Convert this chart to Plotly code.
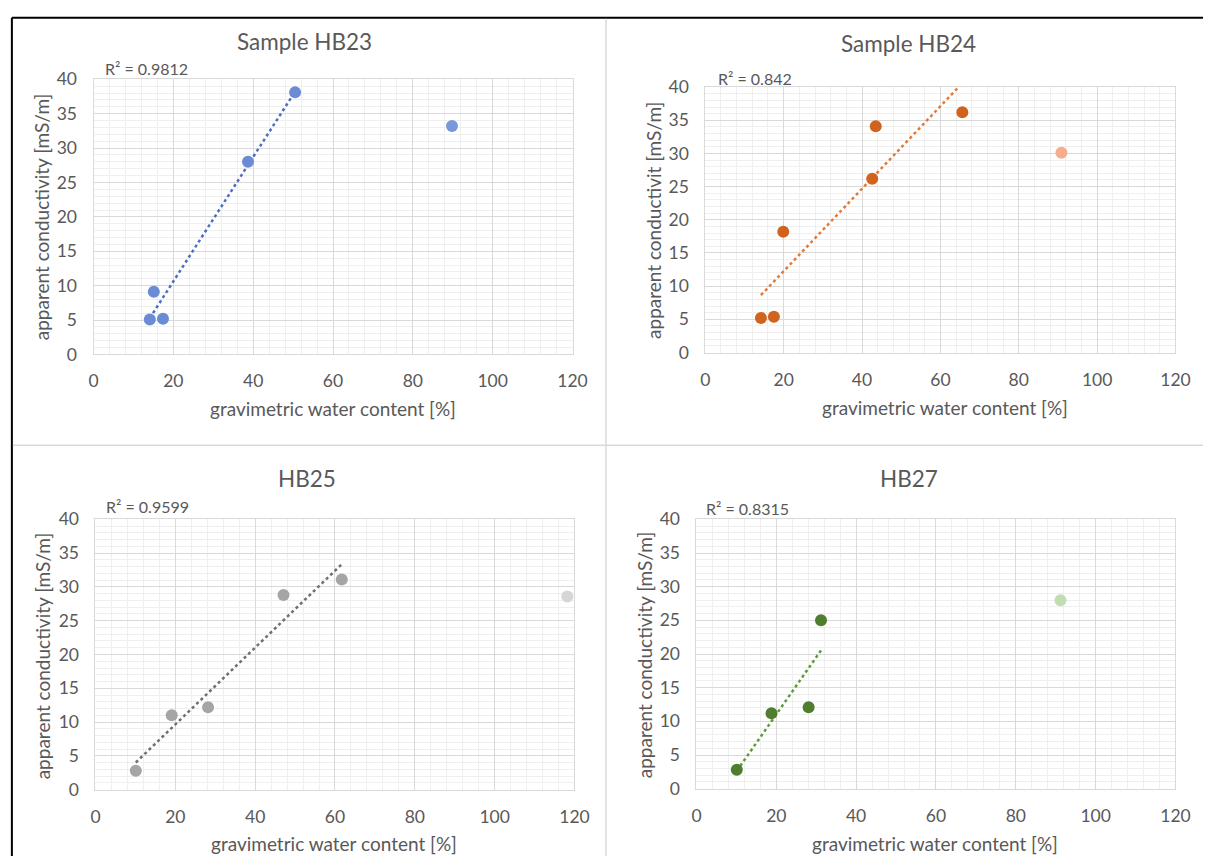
import numpy as np
import plotly.graph_objects as go

# ---------------- data ----------------
titles = ["Sample HB23", "Sample HB24", "HB25", "HB27"]
r2_labels = ["R² = 0.9812", "R² = 0.842", "R² = 0.9599", "R² = 0.8315"]
y_titles = ["apparent conductivity [mS/m]", "apparent conductivit [mS/m]",
            "apparent conductivity [mS/m]", "apparent conductivity [mS/m]"]
x_title = "gravimetric water content [%]"
x_ticks = [0, 20, 40, 60, 80, 100, 120]
y_ticks = [0, 5, 10, 15, 20, 25, 30, 35, 40]

hb23_x = [14.1, 15.1, 17.4, 38.7, 50.5]
hb23_y = [5.1, 9.1, 5.2, 28.0, 38.1]
hb23_out_x = [89.8]
hb23_out_y = [33.2]

hb24_x = [14.2, 17.5, 19.9, 42.6, 43.5, 65.6]
hb24_y = [5.2, 5.4, 18.2, 26.2, 34.1, 36.2]
hb24_out_x = [90.9]
hb24_out_y = [30.1]

hb25_x = [10.1, 19.1, 28.2, 47.1, 61.7]
hb25_y = [2.8, 11.0, 12.2, 28.8, 31.1]
hb25_out_x = [118.2]
hb25_out_y = [28.6]

hb27_x = [10.1, 18.8, 28.1, 31.2]
hb27_y = [2.8, 11.2, 12.1, 25.0]
hb27_out_x = [91.2]
hb27_out_y = [28.0]

# ---------------- styling ----------------
W, H = 1218, 866
FONT = "Lato, 'Open Sans', sans-serif"
TXT = "#595959"

panels = [
    dict(x=hb23_x, y=hb23_y, ox=hb23_out_x, oy=hb23_out_y,
         c="#6B8CD4", oc="#7A97DB", tc="#4A6FC0",
         box=(90, 577, 70, 352), title=(305, 31), r2=(100, 59),
         xt=(333, 407), yt=(38, 211)),
    dict(x=hb24_x, y=hb24_y, ox=hb24_out_x, oy=hb24_out_y,
         c="#D0641F", oc="#F4AE8E", tc="#E07B3A",
         box=(712, 1190, 78, 350), title=(919, 33), r2=(723, 69),
         xt=(956, 406), yt=(660, 215)),
    dict(x=hb25_x, y=hb25_y, ox=hb25_out_x, oy=hb25_out_y,
         c="#A5A5A5", oc="#D6D6D6", tc="#6F6F6F",
         box=(92, 579, 521, 798), title=(307, 479), r2=(101, 508),
         xt=(335, 853), yt=(39, 661)),
    dict(x=hb27_x, y=hb27_y, ox=hb27_out_x, oy=hb27_out_y,
         c="#4E7E2E", oc="#C3DDB3", tc="#5E9A3A",
         box=(703, 1190, 521, 797), title=(919, 479), r2=(711, 510),
         xt=(946, 853), yt=(651, 660)),
]


def px(x):
    return x / W


def py(y):
    return 1 - y / H


fig = go.Figure()
annotations = []
shapes = []

for i, p in enumerate(panels):
    n = "" if i == 0 else str(i + 1)
    xa, ya = "x" + n, "y" + n
    x0, x1, y0, y1 = p["box"]

    # linear trendline fitted to the included points
    coef = np.polyfit(p["x"], p["y"], 1)
    tx = np.array([min(p["x"]), max(p["x"])])
    ty = np.polyval(coef, tx)

    fig.add_trace(go.Scatter(x=tx, y=ty, mode="lines", xaxis=xa, yaxis=ya,
                             line=dict(color=p["tc"], width=2.5, dash="dot"),
                             showlegend=False, hoverinfo="skip"))
    fig.add_trace(go.Scatter(x=p["x"], y=p["y"], mode="markers", xaxis=xa, yaxis=ya,
                             marker=dict(color=p["c"], size=12, line=dict(width=0)),
                             showlegend=False))
    fig.add_trace(go.Scatter(x=p["ox"], y=p["oy"], mode="markers", xaxis=xa, yaxis=ya,
                             marker=dict(color=p["oc"], size=12, line=dict(width=0)),
                             showlegend=False))

    axcommon = dict(showline=True, mirror=True, linecolor="#D9D9D9", linewidth=1,
                    gridcolor="#D9D9D9", gridwidth=1, zeroline=False,
                    tickfont=dict(family=FONT, size=17.5, color=TXT),
                    ticks="", fixedrange=True)
    fig.update_layout(**{
        ("xaxis" + n): dict(axcommon, domain=[px(x0), px(x1)], range=[0, 120],
                            tickvals=x_ticks, anchor=ya, ticklabelstandoff=11,
                            minor=dict(dtick=4, tick0=0, showgrid=True,
                                       gridcolor="#EFEFEF", gridwidth=1)),
        ("yaxis" + n): dict(axcommon, domain=[py(y1), py(y0)], range=[0, 40],
                            tickvals=y_ticks, anchor=xa, ticklabelstandoff=12,
                            minor=dict(dtick=1, tick0=0, showgrid=True,
                                       gridcolor="#EFEFEF", gridwidth=1)),
    })

    annotations += [
        dict(text=titles[i], x=px(p["title"][0]), y=py(p["title"][1]),
             xref="paper", yref="paper", showarrow=False, xanchor="center", yanchor="middle",
             font=dict(family=FONT, size=22.5, color=TXT)),
        dict(text=r2_labels[i], x=px(p["r2"][0]), y=py(p["r2"][1]),
             xref="paper", yref="paper", showarrow=False, xanchor="left", yanchor="middle",
             font=dict(family=FONT, size=16, color=TXT)),
        dict(text=x_title, x=px(p["xt"][0]), y=py(p["xt"][1]),
             xref="paper", yref="paper", showarrow=False, xanchor="center", yanchor="middle",
             font=dict(family=FONT, size=19, color=TXT)),
        dict(text=y_titles[i], x=px(p["yt"][0]), y=py(p["yt"][1]), textangle=-90,
             xref="paper", yref="paper", showarrow=False, xanchor="center", yanchor="middle",
             font=dict(family=FONT, size=19, color=TXT)),
    ]

# frame lines
shapes += [
    dict(type="line", xref="paper", yref="paper", x0=px(7), x1=px(W), y0=py(7), y1=py(7),
         line=dict(color="black", width=2)),
    dict(type="line", xref="paper", yref="paper", x0=px(7), x1=px(7), y0=py(7), y1=py(H),
         line=dict(color="black", width=2)),
    dict(type="line", xref="paper", yref="paper", x0=px(8), x1=px(W), y0=py(445), y1=py(445),
         line=dict(color="#D9D9D9", width=1.5)),
    dict(type="line", xref="paper", yref="paper", x0=px(611), x1=px(611), y0=py(8), y1=py(H),
         line=dict(color="#D9D9D9", width=1.5)),
]

fig.update_layout(width=W, height=H, margin=dict(l=0, r=0, t=0, b=0),
                  paper_bgcolor="white", plot_bgcolor="white",
                  annotations=annotations, shapes=shapes,
                  font=dict(family=FONT, color=TXT))

fig.write_html("out.html")
